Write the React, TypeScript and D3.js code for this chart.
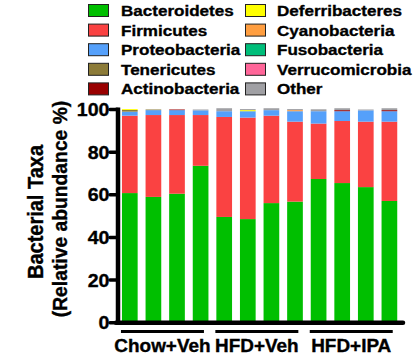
import React from 'react';
import * as d3 from 'd3';

// phyla, in stacking order from the bottom
const phyla = [
  'Bacteroidetes', 'Firmicutes', 'Proteobacteria', 'Tenericutes', 'Actinobacteria',
  'Deferribacteres', 'Cyanobacteria', 'Fusobacteria', 'Verrucomicrobia', 'Other',
];
const colors = [
  '#00BF00', '#FA4242', '#55A0FA', '#8C7B38', '#990000',
  '#FFFF00', '#FF9E40', '#00BE7A', '#FF6699', '#A0A0A4',
];

const groups = ['Chow+Veh', 'HFD+Veh', 'HFD+IPA'];
const samples = ['C1', 'C2', 'C3', 'C4', 'H1', 'H2', 'H3', 'H4', 'I1', 'I2', 'I3', 'I4'];
const sampleGroup = [0, 0, 0, 0, 1, 1, 1, 1, 2, 2, 2, 2];

// relative abundance (%) per sample
const bacteroidetes = [60.8, 59.0, 60.5, 73.6, 49.6, 48.6, 56.1, 56.8, 67.4, 65.5, 63.6, 57.1];
const firmicutes = [36.3, 38.4, 36.9, 23.8, 46.9, 47.6, 41.0, 37.5, 26.0, 29.1, 30.7, 37.2];
const proteobacteria = [1.9, 2.3, 2.3, 2.2, 2.7, 3.0, 2.6, 4.9, 5.8, 4.6, 5.3, 4.9];
const tenericutes = [0.8, 0.3, 0, 0, 0, 0, 0, 0, 0, 0, 0, 0];
const actinobacteria = [0, 0, 0.3, 0, 0, 0, 0, 0, 0, 0.5, 0, 0.5];
const deferribacteres = [0.4, 0, 0, 0, 0, 0.5, 0, 0, 0, 0, 0, 0];
const cyanobacteria = [0, 0, 0, 0, 0, 0, 0, 0.5, 0, 0, 0, 0];
const fusobacteria = [0, 0, 0, 0, 0, 0, 0, 0, 0, 0, 0, 0];
const verrucomicrobia = [0, 0, 0, 0, 0, 0, 0, 0, 0, 0, 0, 0];
const other = [0, 0, 0, 0.4, 1.4, 0.5, 0.9, 0.5, 0.9, 0.9, 0.4, 0.9];

const yTicks = [0, 20, 40, 60, 80, 100];

const series = [
  bacteroidetes, firmicutes, proteobacteria, tenericutes, actinobacteria,
  deferribacteres, cyanobacteria, fusobacteria, verrucomicrobia, other,
];

const font = '"Liberation Sans", Arial, sans-serif';

// the original figure is a bit wider than tall, so text is stretched sideways
const Label = ({ x, y, size, anchor = 'start', sx = 1.08, rotate = 0, children }: any) => (
  <text
    transform={`translate(${x},${y}) rotate(${rotate}) scale(${rotate ? 1 : sx},${rotate ? sx : 1})`}
    textAnchor={anchor} fontSize={size} stroke="#000" strokeWidth={0.35}>
    {children}
  </text>
);

const App = () => {
  const width = 420;
  const height = 358;
  const axisX = 118;

  // table for d3.stack
  const table = samples.map((s, i) => {
    const row: any = { sample: s };
    phyla.forEach((p, j) => { row[p] = series[j][i]; });
    return row;
  });
  const stacked = d3.stack().keys(phyla)(table);

  const x = d3.scaleBand()
    .domain(samples)
    .range([119.6, 399.6])
    .paddingInner(0.335)
    .paddingOuter(0.1);

  const y = d3.scaleLinear()
    .domain([0, 100])
    .range([322.7, 109.5]);

  return (
    <svg width={width} height={height} style={{ position: 'absolute', left: 0, top: 0 }}
      fontFamily={font} fontWeight="bold">
      {/* bars */}
      {stacked.map((layer, j) => (
        <g key={phyla[j]} fill={colors[j]}>
          {layer.map((d, i) => (
            d[1] - d[0] > 0 ? (
              <rect key={i} x={x(samples[i])} width={x.bandwidth()}
                y={y(d[1])} height={y(d[0]) - y(d[1])} />
            ) : null
          ))}
        </g>
      ))}

      {/* y axis */}
      <line x1={axisX} x2={axisX} y1={y(100) - 2} y2={y(0) + 2} stroke="#000" strokeWidth={4.5} />
      {yTicks.map(t => (
        <g key={t}>
          <line x1={110} x2={axisX} y1={y(t)} y2={y(t)} stroke="#000" strokeWidth={3.5} strokeLinecap="round" />
          <Label x={109.5} y={y(t) + 6.6} size={18.5} anchor="end" sx={1.06}>{t}</Label>
        </g>
      ))}

      {/* x axis */}
      <line x1={axisX - 2} x2={403} y1={y(0)} y2={y(0)} stroke="#000" strokeWidth={4.5} strokeLinecap="round" />

      {/* group brackets and labels */}
      {groups.map((g, gi) => {
        const members = samples.filter((s, i) => sampleGroup[i] === gi);
        const x0 = (x(members[0]) as number) - 1;
        const x1 = (x(members[members.length - 1]) as number) + x.bandwidth() - 4.5;
        return (
          <g key={g}>
            <line x1={x0} x2={x1} y1={331.5} y2={331.5} stroke="#000" strokeWidth={3} />
            <Label x={(x0 + x1) / 2} y={351.5} size={17.7} anchor="middle" sx={1.07}>{g}</Label>
          </g>
        );
      })}

      {/* y title */}
      <Label x={42.5} y={212} size={20} anchor="middle" rotate={-90} sx={1.08}>Bacterial Taxa</Label>
      <Label x={66.5} y={209} size={19.3} anchor="middle" rotate={-90} sx={1.08}>(Relative abundance %)</Label>

      {/* legend */}
      {phyla.map((p, j) => {
        const col = j < 5 ? 0 : 1;
        const row = j % 5;
        const sx = col === 0 ? 88.5 : 245.5;
        const tx = col === 0 ? 121 : 277;
        const ty = 16 + row * 19.6;
        return (
          <g key={p}>
            <rect x={sx} y={ty - 11.5} width={20} height={12} fill={colors[j]} stroke="#222" strokeWidth={1} />
            <Label x={tx} y={ty} size={15.5} sx={1.1}>{p}</Label>
          </g>
        );
      })}
    </svg>
  );
};

export default App;
